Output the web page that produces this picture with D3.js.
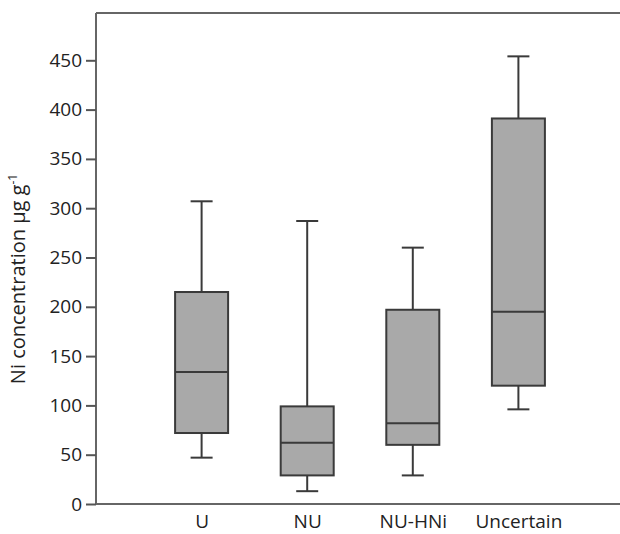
<!DOCTYPE html>
<html><head><meta charset="utf-8">
<script src="https://cdn.jsdelivr.net/npm/d3@7"></script>
<style>body{margin:0;background:#fff;overflow:hidden}svg{display:block}</style>
</head><body><svg id="c" width="620" height="534"></svg>
<script>
const categories = ["U","NU","NU-HNi","Uncertain"];
const whiskerLow = [47, 13, 29, 96];
const q1 = [72, 29, 60, 120];
const median = [134, 62, 82, 195];
const q3 = [215, 99, 197, 391];
const whiskerHigh = [307, 287, 260, 454];
const yTicks = [0,50,100,150,200,250,300,350,400,450];

const svg = d3.select("#c");
const font = "'Open Sans', sans-serif";
const x = d3.scalePoint().domain(categories).range([96, 624]).padding(1);
const y = d3.scaleLinear().domain([0, 500]).range([504, 11]);
const bw = 53, cap = 22;
const data = categories.map((c,i)=>({c, lo:whiskerLow[i], q1:q1[i], med:median[i], q3:q3[i], hi:whiskerHigh[i]}));

// frame top line
svg.append("line").attr("x1", 96).attr("x2", 620).attr("y1", y(498)).attr("y2", y(498))
  .attr("stroke","#666").attr("stroke-width",2);

const g = svg.selectAll("g.box").data(data).join("g").attr("class","box");
const sc = "#3a3a3a";
g.append("line").attr("x1",d=>x(d.c)).attr("x2",d=>x(d.c)).attr("y1",d=>y(d.hi)).attr("y2",d=>y(d.q3)).attr("stroke",sc).attr("stroke-width",2);
g.append("line").attr("x1",d=>x(d.c)).attr("x2",d=>x(d.c)).attr("y1",d=>y(d.q1)).attr("y2",d=>y(d.lo)).attr("stroke",sc).attr("stroke-width",2);
g.append("line").attr("x1",d=>x(d.c)-cap/2).attr("x2",d=>x(d.c)+cap/2).attr("y1",d=>y(d.hi)).attr("y2",d=>y(d.hi)).attr("stroke",sc).attr("stroke-width",2);
g.append("line").attr("x1",d=>x(d.c)-cap/2).attr("x2",d=>x(d.c)+cap/2).attr("y1",d=>y(d.lo)).attr("y2",d=>y(d.lo)).attr("stroke",sc).attr("stroke-width",2);
g.append("rect").attr("x",d=>x(d.c)-bw/2).attr("width",bw).attr("y",d=>y(d.q3)).attr("height",d=>y(d.q1)-y(d.q3))
  .attr("fill","#a9a9a9").attr("stroke",sc).attr("stroke-width",2);
g.append("line").attr("x1",d=>x(d.c)-bw/2).attr("x2",d=>x(d.c)+bw/2).attr("y1",d=>y(d.med)).attr("y2",d=>y(d.med)).attr("stroke",sc).attr("stroke-width",2);

// y axis
const ya = svg.append("g").attr("transform","translate(96,0)")
  .call(d3.axisLeft(y).tickValues(yTicks).tickSize(10).tickPadding(4).tickSizeOuter(0));
ya.select(".domain").attr("stroke","#666").attr("stroke-width",2).attr("d", `M0,${y(498)}V${y(0)}`);
ya.selectAll(".tick line").attr("stroke","#555").attr("stroke-width",2);
ya.selectAll(".tick text").attr("font-family",font).attr("font-size",19).attr("fill","#222");

// x axis
const xa = svg.append("g").attr("transform",`translate(0,${y(0)})`)
  .call(d3.axisBottom(x).tickSize(0).tickPadding(11).tickSizeOuter(0));
xa.select(".domain").attr("stroke","#666").attr("stroke-width",2).attr("d","M96,0H620");
xa.selectAll(".tick text").attr("font-family",font).attr("font-size",19).attr("fill","#222");

// y title
const t = svg.append("text").attr("transform","translate(25,279) rotate(-90)")
  .attr("text-anchor","middle").attr("font-family",font).attr("font-size",20).attr("fill","#222");
t.append("tspan").text("Ni concentration µg g");
t.append("tspan").text("-1").attr("font-size",12).attr("dy",-8);
</script></body></html>
